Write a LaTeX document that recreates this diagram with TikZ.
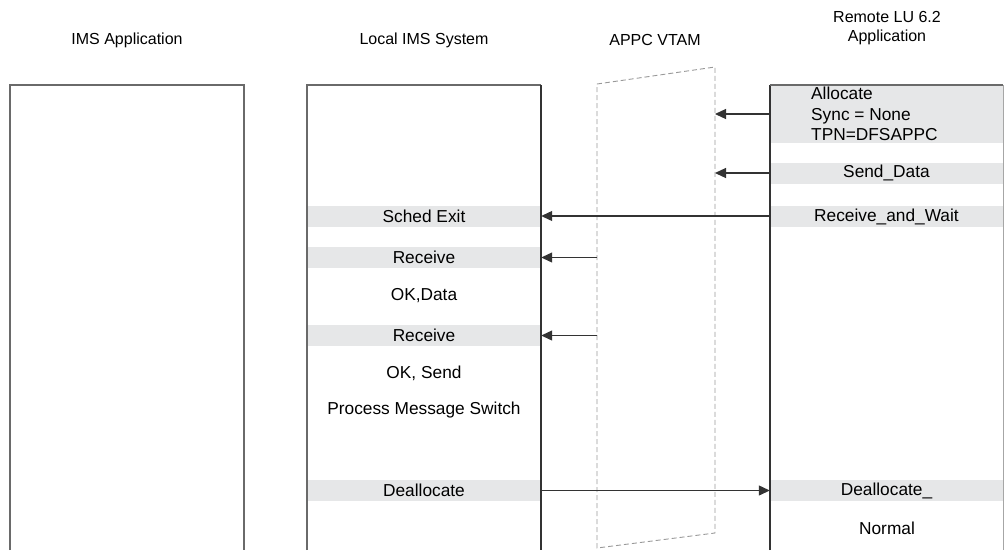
\documentclass[tikz,border=0pt]{standalone}
\usepackage{fontspec}
\setmainfont{Liberation Sans}
\usetikzlibrary{arrows.meta}
\definecolor{band}{HTML}{E6E7E8}
\definecolor{edge}{HTML}{6A6A6A}
\definecolor{arrowc}{HTML}{333333}
\definecolor{dashc}{HTML}{999999}
\tikzset{
  title/.style={font=\fontsize{16}{19.5}\selectfont, align=center, inner sep=0pt},
  txt/.style={font=\fontsize{17.3}{20.5}\selectfont, inner sep=0pt},
  localband/.style={fill=band, draw=none, minimum width=234pt, minimum height=21pt, inner sep=0pt, font=\fontsize{17.3}{20.5}\selectfont},
  remoteband/.style={fill=band, draw=none, minimum width=233pt, minimum height=21pt, inner sep=0pt, font=\fontsize{17.3}{20.5}\selectfont},
  lifeline/.style={draw=edge, line width=1.3pt},
  msg/.style={draw=arrowc, line width=1.2pt, -{Triangle[length=11pt,width=10pt]}},
  vtam/.style={draw=dashc, line width=0.9pt, dash pattern=on 5pt off 3pt},
}
\begin{document}
\begin{tikzpicture}[x=1pt,y=-1pt]
\useasboundingbox (0,0) rectangle (1005,550);
\fill[white] (0,0) rectangle (1005,550);

% titles
\node[title] (t1) at (127,40) {IMS Application};
\node[title] (t2) at (424,40) {Local IMS System};
\node[title] (t3) at (655,40) {APPC VTAM};
\node[title] (t4) at (887,28) {Remote LU 6.2\\Application};

% bands (drawn first so borders sit on top)
\node[remoteband, minimum height=58pt] (alloc) at (886.5,114) {};
\node[txt, anchor=west, align=left] (alloctxt) at (811,114) {Allocate\\Sync = None\\TPN=DFSAPPC};
\node[remoteband] (senddata) at (886.5,173) {Send\_Data};
\node[remoteband] (rwait) at (886.5,216.5) {Receive\_and\_Wait};
\node[remoteband] (dealloc2) at (886.5,490.5) {Deallocate\_};
\node[txt] (normal) at (887,528) {Normal};

\node[localband] (sched) at (424,216) {Sched Exit};
\node[localband] (recv1) at (424,257.5) {Receive};
\node[txt] (okdata) at (424,296) {OK,Data};
\node[localband] (recv2) at (424,335.5) {Receive};
\node[txt] (oksend) at (424,373) {OK, Send};
\node[txt] (pms) at (424,410) {Process Message Switch};
\node[localband] (dealloc) at (424,490.5) {Deallocate};

% lifeline boxes (open at the bottom)
\draw[lifeline] (10,550) -- (10,85) -- (244,85) -- (244,550);
\draw[lifeline] (307,550) -- (307,85) -- (541,85);
\draw[draw=arrowc, line width=1.1pt] (541,85) -- (541,550);
\draw[draw=arrowc, line width=1.1pt] (770,550) -- (770,85);
\draw[lifeline] (770,85) -- (1003,85);
\draw[draw=edge!60, line width=1pt] (1003,85) -- (1003,550);

% APPC VTAM dashed shape
\coordinate (vtl) at (597,84);
\coordinate (vtr) at (715,67);
\coordinate (vbr) at (715,533);
\coordinate (vbl) at (597,548);
\draw[vtam] (vtl) -- (vtr) -- (vbr) -- (vbl) -- cycle;

% connector end points on the VTAM edges
\coordinate (v1) at (715,114);
\coordinate (v2) at (715,173);
\coordinate (v3) at (597,257.5);
\coordinate (v4) at (597,335.5);

% messages
\draw[msg] (alloc.west) -- (v1);
\draw[msg] (senddata.west) -- (v2);
\draw[msg] (rwait.west |- sched.east) -- (sched.east);
\draw[msg] (v3) -- (recv1.east);
\draw[msg] (v4) -- (recv2.east);
\draw[msg] (dealloc.east) -- (dealloc2.west);
\end{tikzpicture}
\end{document}
